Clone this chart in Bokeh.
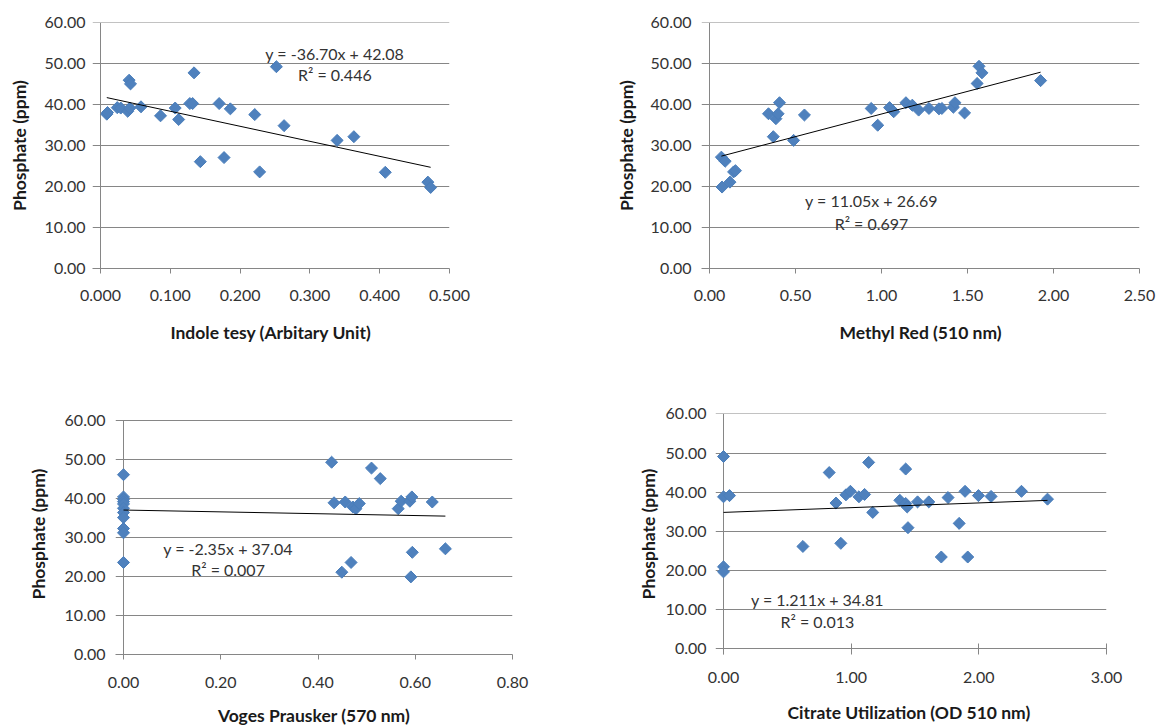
import numpy as np
from bokeh.plotting import figure
from bokeh.models import Range1d, FixedTicker, NumeralTickFormatter, Label
from bokeh.layouts import column, row
from bokeh.embed import file_html
from bokeh.resources import INLINE

# ---------------- data ----------------
indole_x = [0.009, 0.010, 0.024, 0.029, 0.039, 0.042, 0.041, 0.043, 0.058, 0.086,
            0.107, 0.112, 0.128, 0.132, 0.134, 0.143, 0.170, 0.177, 0.186, 0.221,
            0.228, 0.252, 0.263, 0.339, 0.363, 0.408, 0.469, 0.473]
indole_y = [37.7, 38.1, 39.3, 39.2, 38.4, 39.2, 46.0, 45.1, 39.5, 37.3,
            39.2, 36.4, 40.3, 40.3, 47.8, 26.1, 40.3, 27.1, 39.0, 37.6,
            23.6, 49.3, 34.9, 31.3, 32.2, 23.5, 21.1, 19.8]

mr_x = [0.069, 0.091, 0.073, 0.119, 0.140, 0.151, 0.343, 0.371, 0.386, 0.399,
        0.407, 0.489, 0.552, 0.940, 0.978, 1.047, 1.071, 1.142, 1.179, 1.216,
        1.276, 1.334, 1.351, 1.418, 1.427, 1.483, 1.556, 1.567, 1.584, 1.925]
mr_y = [27.2, 26.2, 19.9, 21.1, 23.6, 23.9, 37.8, 32.2, 36.6, 37.8,
        40.5, 31.3, 37.5, 39.1, 35.0, 39.3, 38.3, 40.5, 39.9, 38.7,
        39.1, 39.0, 39.1, 39.4, 40.5, 38.0, 45.2, 49.4, 47.8, 45.9]

vp_x = [0.0, 0.0, 0.0, 0.0, 0.0, 0.0, 0.0, 0.0, 0.0, 0.0, 0.0,
        0.428, 0.433, 0.456, 0.449, 0.468, 0.472, 0.478, 0.485, 0.510,
        0.528, 0.565, 0.571, 0.589, 0.593, 0.594, 0.591, 0.635, 0.662]
vp_y = [46.1, 40.4, 39.8, 39.2, 38.6, 37.5, 36.4, 35.1, 32.3, 31.2, 23.6,
        49.3, 38.9, 39.1, 21.1, 23.6, 37.8, 37.4, 38.7, 47.8,
        45.1, 37.4, 39.3, 39.3, 40.4, 26.2, 19.9, 39.1, 27.1]

cit_x = [0.0, 0.0, 0.047, 0.0, 0.0, 0.622, 0.828, 0.881, 0.919, 0.959,
         0.994, 1.061, 1.105, 1.137, 1.169, 1.381, 1.427, 1.427, 1.439, 1.445,
         1.520, 1.608, 1.706, 1.759, 1.846, 1.892, 1.913, 1.997, 2.096, 2.334, 2.538]
cit_y = [49.1, 38.8, 39.1, 20.9, 19.6, 26.1, 45.0, 37.2, 26.9, 39.3,
         40.2, 38.8, 39.4, 47.6, 34.8, 37.9, 45.9, 37.1, 36.2, 30.9,
         37.5, 37.5, 23.4, 38.6, 32.0, 40.2, 23.4, 39.1, 38.9, 40.2, 38.2]

slopes = [-36.70, 11.05, -2.35, 1.211]
intercepts = [42.08, 26.69, 37.04, 34.81]
eq_texts = ["y = -36.70x + 42.08", "y = 11.05x + 26.69",
            "y = -2.35x + 37.04", "y = 1.211x + 34.81"]
r2_texts = ["R\u00b2 = 0.446", "R\u00b2 = 0.697", "R\u00b2 = 0.007", "R\u00b2 = 0.013"]
x_labels = ["Indole tesy (Arbitary Unit)", "Methyl Red (510 nm)",
            "Voges Prausker (570 nm)", "Citrate Utilization  (OD 510 nm)"]
y_label = "Phosphate (ppm)"
x_max = [0.5, 2.5, 0.8, 3.0]
x_step = [0.1, 0.5, 0.2, 1.0]
x_fmt = ["0.000", "0.00", "0.00", "0.00"]
y_ticks = [0, 10, 20, 30, 40, 50, 60]

# ---------------- style ----------------
FONT = "Lato"
GRID = "#868686"
BLUE = "#4F81BD"
BLUE_EDGE = "#4A7EBB"
TICK_COLOR = "#333333"
TITLE_COLOR = "#1a1a1a"


def make_chart(i, xs, ys, width, height, bl, br, bt, bb, px60, px0,
               eq_pos, ytick_so, ylab_so, xtick_so, xlab_so, axis_at_zero=True):
    fw = width - bl - br
    fh = height - bt - bb
    pad = 8 * x_max[i] / (fw - 8)
    # vertical range so that 60 and 0 land on the wanted rows of the frame
    unit = (px0 - px60) / 60.0
    y0 = -(fh - px0) / unit
    y1 = 60 + px60 / unit
    p = figure(width=width, height=height,
               x_range=Range1d(-pad, x_max[i]), y_range=Range1d(y0, y1),
               min_border_left=bl, min_border_right=br,
               min_border_top=bt, min_border_bottom=bb,
               toolbar_location=None, output_backend="svg",
               outline_line_color=None, background_fill_color="white",
               border_fill_color="white")

    n = int(round(x_max[i] / x_step[i]))
    xt = [round(k * x_step[i], 6) for k in range(n + 1)]

    xa = p.xaxis[0]
    xa.ticker = FixedTicker(ticks=xt)
    xa.formatter = NumeralTickFormatter(format=x_fmt[i])
    xa.major_tick_line_color = GRID
    if axis_at_zero:
        xa.axis_line_color = GRID
        xa.major_tick_out = 5
        xa.major_tick_in = 0
    else:
        # zero gridline sits above the frame edge: ticks hang from it
        xa.axis_line_color = None
        xa.major_tick_out = 0
        xa.major_tick_in = int(round(fh - px0)) + 5
    xa.minor_tick_line_color = None
    xa.major_label_text_font = FONT
    xa.major_label_text_font_size = "16px"
    xa.major_label_text_color = TICK_COLOR
    xa.major_label_standoff = xtick_so
    xa.axis_label = x_labels[i]
    xa.axis_label_text_font = FONT
    xa.axis_label_text_font_style = "bold"
    xa.axis_label_text_font_size = "17.5px"
    xa.axis_label_text_color = TITLE_COLOR
    xa.axis_label_standoff = xlab_so

    ya = p.yaxis[0]
    ya.ticker = FixedTicker(ticks=y_ticks)
    ya.formatter = NumeralTickFormatter(format="0.00")
    ya.axis_line_color = None
    ya.major_tick_line_color = None
    ya.major_tick_out = 0
    ya.major_tick_in = 0
    ya.minor_tick_line_color = None
    ya.major_label_text_font = FONT
    ya.major_label_text_font_size = "16px"
    ya.major_label_text_color = TICK_COLOR
    ya.major_label_standoff = ytick_so
    ya.axis_label = y_label
    ya.axis_label_text_font = FONT
    ya.axis_label_text_font_style = "bold"
    ya.axis_label_text_font_size = "17.5px"
    ya.axis_label_text_color = TITLE_COLOR
    ya.axis_label_standoff = ylab_so

    p.xgrid.grid_line_color = None
    p.ygrid.ticker = FixedTicker(ticks=y_ticks)
    p.ygrid.grid_line_color = GRID
    p.ygrid.grid_line_width = 1

    # vertical axis line at x = 0, from the bottom of the frame up to 60
    vline = p.segment(x0=[0], y0=[y0], x1=[0], y1=[y_ticks[-1]],
                      line_color=GRID, line_width=1)
    vline.level = "underlay"

    p.scatter(xs, ys, marker="square", angle=np.pi / 4, size=8.5,
              fill_color=BLUE, line_color=BLUE_EDGE, line_width=1)

    x0, x1 = min(xs), max(xs)
    p.line([x0, x1], [slopes[i] * x0 + intercepts[i], slopes[i] * x1 + intercepts[i]],
           line_color="black", line_width=1)

    ex, ey, ry = eq_pos
    p.add_layout(Label(x=ex, y=ey, text=eq_texts[i], text_align="center",
                       text_baseline="middle", text_font=FONT,
                       text_font_size="16px", text_color=TICK_COLOR))
    p.add_layout(Label(x=ex, y=ry, text=r2_texts[i], text_align="center",
                       text_baseline="middle", text_font=FONT,
                       text_font_size="16px", text_color=TICK_COLOR))
    return p


# page origin is (0, 0): Bokeh's page template removes the body margin.
# top row: frames 22..268 ; bottom row: frames 413..654 (shared borders)
p1 = make_chart(0, indole_x, indole_y, 580, 378, 92, 131, 22, 110, 0.4, 246,
                (0.3357, 52.6, 47.3), 7, 12, 16, 18)
p2 = make_chart(1, mr_x, mr_y, 581, 378, 121, 22, 22, 110, 0.4, 246,
                (0.942, 16.5, 11.1), 10, 11, 16, 18)
p3 = make_chart(2, vp_x, vp_y, 580, 350, 115, 68, 35, 74, 7, 241,
                (0.215, 27.3, 21.8), 10, 13, 17, 14)
p4 = make_chart(3, cit_x, cit_y, 581, 350, 135, 55, 35, 74, 0.4, 235,
                (0.7355, 12.6, 7.0), 9, 4, 17, 16, axis_at_zero=False)

layout = column(row(p1, p2), row(p3, p4))

open("out.html", "w").write(file_html(layout, INLINE))
